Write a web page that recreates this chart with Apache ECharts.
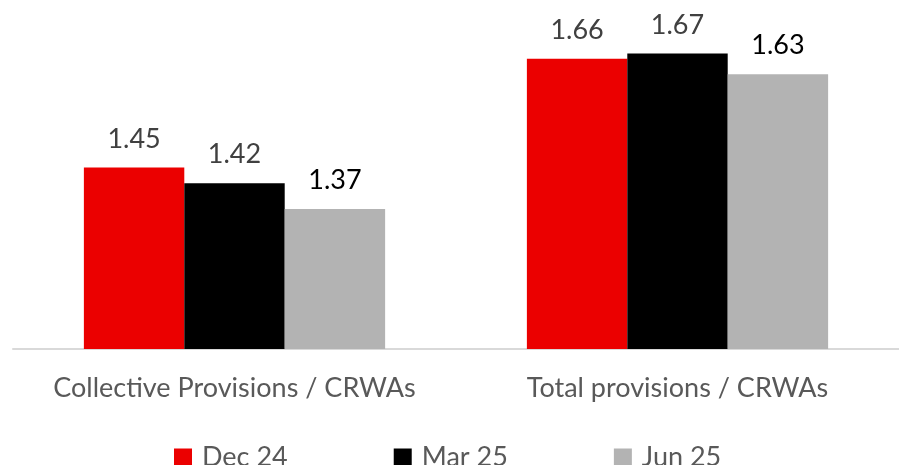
<!DOCTYPE html>
<html>
<head>
<meta charset="utf-8">
<script src="https://cdn.jsdelivr.net/npm/echarts@6/dist/echarts.min.js"></script>
<style>
  html, body { margin: 0; padding: 0; background: #fff; }
  #chart { width: 899px; height: 465px; }
</style>
</head>
<body>
<div id="chart"></div>
<script>
const categories = ["Collective Provisions / CRWAs", "Total provisions / CRWAs"];
const seriesNames = ["Dec 24", "Mar 25", "Jun 25"];
const dec24 = [1.45, 1.66];
const mar25 = [1.42, 1.67];
const jun25 = [1.37, 1.63];

const colors = ["#EB0000", "#000000", "#B3B3B3"];
const labelColors = ["#404040", "#404040", "#000000"];
const fontFamily = "Lato, 'Open Sans', sans-serif";

const chart = echarts.init(document.getElementById("chart"));

function makeSeries(name, data, i) {
  return {
    name: name,
    type: "bar",
    data: data,
    barGap: "0%",
    barCategoryGap: "32%",
    itemStyle: { color: colors[i] },
    label: {
      show: true,
      position: "top",
      distance: 15,
      formatter: (p) => p.value.toFixed(2),
      color: labelColors[i],
      fontSize: 27,
      fontFamily: fontFamily,
    },
  };
}

chart.setOption({
  animation: false,
  color: colors,
  grid: {
    left: 13,
    right: 0,
    top: 38,
    bottom: 116,
    containLabel: false,
  },
  legend: {
    data: seriesNames,
    top: 439,
    left: 169,
    icon: "rect",
    itemWidth: 18,
    itemHeight: 18,
    itemGap: 106,
    textStyle: {
      color: "#595959",
      fontSize: 27,
      fontFamily: fontFamily,
      padding: [0, 0, 0, 5],
    },
  },
  xAxis: {
    type: "category",
    data: categories,
    axisTick: { show: false },
    axisLine: { lineStyle: { color: "#D9D9D9", width: 2 } },
    axisLabel: {
      interval: 0,
      color: "#595959",
      fontSize: 27,
      fontFamily: fontFamily,
      margin: 26,
    },
  },
  yAxis: {
    type: "value",
    min: 1.1,
    max: 1.7,
    show: false,
    splitLine: { show: false },
  },
  series: [
    makeSeries(seriesNames[0], dec24, 0),
    makeSeries(seriesNames[1], mar25, 1),
    makeSeries(seriesNames[2], jun25, 2),
  ],
});
</script>
</body>
</html>
